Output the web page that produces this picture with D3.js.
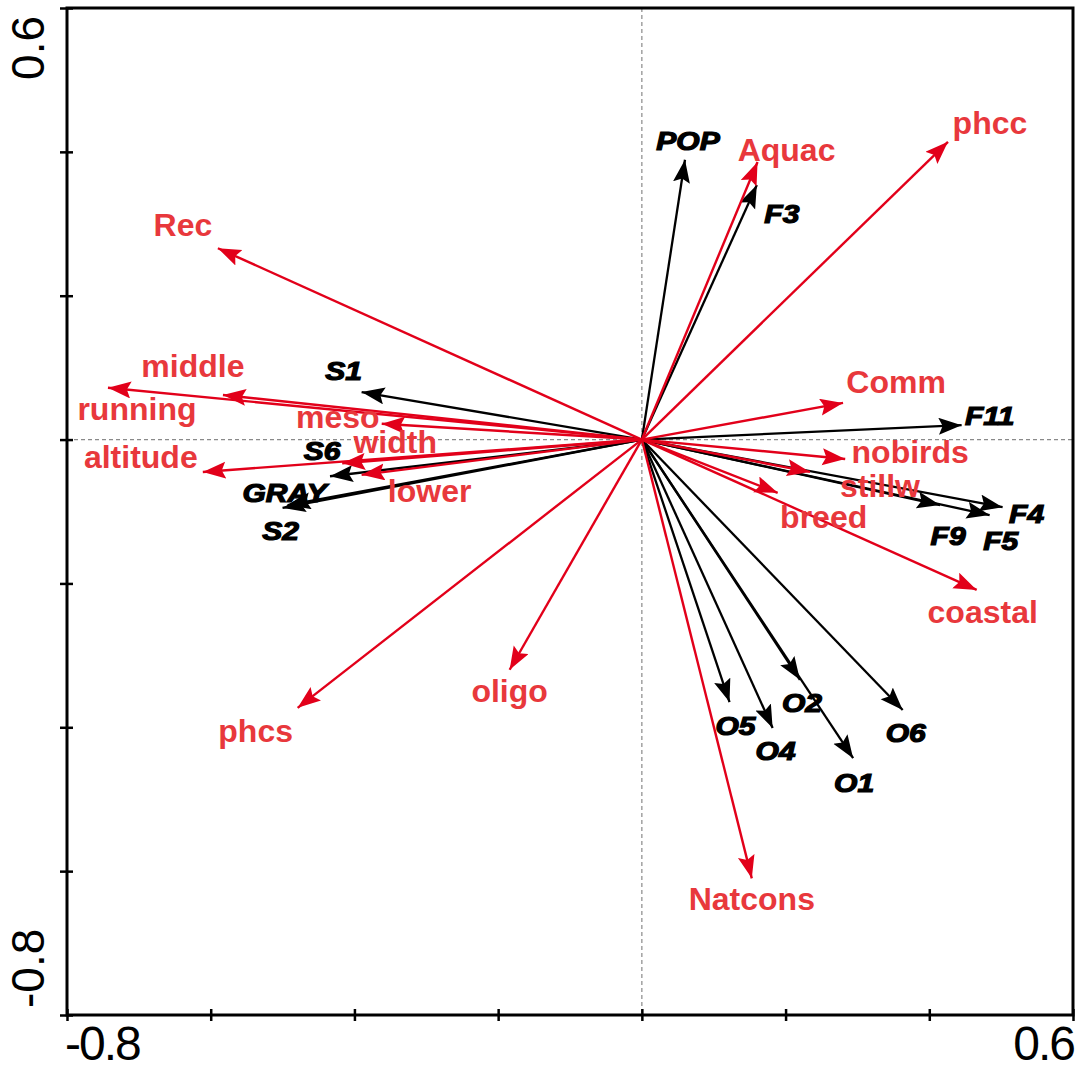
<!DOCTYPE html>
<html>
<head>
<meta charset="utf-8">
<script src="https://cdn.jsdelivr.net/npm/d3@7"></script>
<style>
  body { margin: 0; background: #fff; }
</style>
</head>
<body>
<svg id="chart" width="1076" height="1070"></svg>
<script>
// environmental variables (red arrows), scores on axis 1 and axis 2
var envNames = ['Rec', 'middle', 'running', 'meso', 'width', 'lower', 'altitude', 'phcs', 'oligo',
                'Natcons', 'coastal', 'breed', 'stillw', 'nobirds', 'Comm', 'phcc', 'Aquac'];
var envX = [-0.590, -0.583, -0.743, -0.362, -0.417, -0.390, -0.611, -0.479, -0.184,
             0.153, 0.466, 0.189, 0.234, 0.283, 0.280, 0.426, 0.161];
var envY = [0.266, 0.062, 0.072, 0.022, -0.033, -0.049, -0.045, -0.373, -0.320,
            -0.610, -0.209, -0.074, -0.045, -0.027, 0.051, 0.414, 0.386];

// species (black arrows)
var sppNames = ['POP', 'F3', 'S1', 'S6', 'GRAY', 'S2', 'F11', 'F4', 'F5', 'F9',
                'O5', 'O4', 'O2', 'O1', 'O6'];
var sppX = [0.060, 0.160, -0.390, -0.434, -0.493, -0.500, 0.445, 0.502, 0.484, 0.415,
            0.122, 0.182, 0.220, 0.294, 0.363];
var sppY = [0.389, 0.354, 0.066, -0.051, -0.091, -0.095, 0.020, -0.094, -0.105, -0.091,
            -0.365, -0.401, -0.334, -0.443, -0.376];

var tickValues = [-0.8, -0.6, -0.4, -0.2, 0, 0.2, 0.4, 0.6];
var endLabels = ['-0.8', '0.6'];

// label offsets from the arrow tip (pixels), layout only
var labelOffset = {
  Rec: [-35, -12], middle: [-30, -18], running: [29, 32], meso: [-44, 4], width: [53, -10],
  lower: [68, 27], altitude: [-62, -4], phcs: [-42, 34], oligo: [0, 32], Natcons: [0, 32],
  coastal: [6, 33], breed: [46, 35], stillw: [70, 25], nobirds: [65, 4], Comm: [53, -10],
  phcc: [42, -8], Aquac: [29, -1],
  POP: [3, -10], F3: [25, 38], S1: [-18, -12], S6: [-8, -16], GRAY: [-3, -3], S2: [-2, 32],
  F11: [28, 0], F4: [24, 16], F5: [11, 35], F9: [8, 40],
  O5: [6, 33], O4: [3, 32], O2: [2, 32], O1: [1, 34], O6: [3, 32]
};

var RED = '#e2001a', RED_TEXT = '#e8383c';

var svg = d3.select('#chart');
var pLeft = 67, pRight = 1073, pTop = 8, pBottom = 1015;

var x = d3.scaleLinear().domain([-0.8, 0.6]).range([pLeft, pRight]);
var y = d3.scaleLinear().domain([-0.8, 0.6]).range([pBottom, pTop]);

// arrowhead markers
var defs = svg.append('defs');
[['head-red', RED], ['head-black', '#000']].forEach(function(m) {
  defs.append('marker')
      .attr('id', m[0])
      .attr('markerUnits', 'userSpaceOnUse')
      .attr('markerWidth', 24).attr('markerHeight', 18)
      .attr('refX', 23).attr('refY', 8.5)
      .attr('orient', 'auto')
    .append('path')
      .attr('d', 'M0,0 L23,8.5 L0,17 L4,8.5 Z')
      .attr('fill', m[1]);
});

// dashed zero lines
svg.append('line')
    .attr('x1', x(0)).attr('x2', x(0)).attr('y1', pTop).attr('y2', pBottom)
    .attr('stroke', '#8a8a8a').attr('stroke-width', 1.2).attr('stroke-dasharray', '4,3');
svg.append('line')
    .attr('x1', pLeft).attr('x2', pRight).attr('y1', y(0)).attr('y2', y(0))
    .attr('stroke', '#8a8a8a').attr('stroke-width', 1.2).attr('stroke-dasharray', '4,3');

// frame
svg.append('rect')
    .attr('x', pLeft).attr('y', pTop)
    .attr('width', pRight - pLeft).attr('height', pBottom - pTop)
    .attr('fill', 'none').attr('stroke', '#000').attr('stroke-width', 3);

// ticks crossing the left and bottom axes
var yAxis = d3.axisLeft(y).tickValues(tickValues).tickSize(7).tickFormat('');
svg.append('g')
    .attr('transform', 'translate(' + pLeft + ',0)')
    .call(yAxis)
    .call(function(g) {
      g.select('.domain').remove();
      g.selectAll('.tick line').attr('x1', 6).attr('stroke-width', 2.5);
    });

var xAxis = d3.axisBottom(x).tickValues(tickValues).tickSize(6).tickFormat('');
svg.append('g')
    .attr('transform', 'translate(0,' + pBottom + ')')
    .call(xAxis)
    .call(function(g) {
      g.select('.domain').remove();
      g.selectAll('.tick line').attr('y1', -6).attr('stroke-width', 2.5);
    });

// end tick labels
svg.append('text')
    .attr('x', x(-0.8) - 2).attr('y', 1060)
    .attr('text-anchor', 'start')
    .attr('font-family', 'Liberation Sans, Arial, sans-serif')
    .attr('font-size', 48).attr('letter-spacing', -2)
    .text(endLabels[0]);
svg.append('text')
    .attr('x', x(0.6) + 1).attr('y', 1060)
    .attr('text-anchor', 'end')
    .attr('font-family', 'Liberation Sans, Arial, sans-serif')
    .attr('font-size', 48).attr('letter-spacing', -2)
    .text(endLabels[1]);

svg.append('text')
    .attr('transform', 'translate(44,' + (y(0.6) + 8) + ') rotate(-90)')
    .attr('text-anchor', 'end')
    .attr('font-family', 'Liberation Sans, Arial, sans-serif')
    .attr('font-size', 46)
    .text(endLabels[1]);
svg.append('text')
    .attr('transform', 'translate(44,' + (y(-0.8) - 7) + ') rotate(-90)')
    .attr('text-anchor', 'start')
    .attr('font-family', 'Liberation Sans, Arial, sans-serif')
    .attr('font-size', 46)
    .text(endLabels[0]);

var spp = sppNames.map(function(n, i) { return { name: n, x: sppX[i], y: sppY[i] }; });
var env = envNames.map(function(n, i) { return { name: n, x: envX[i], y: envY[i] }; });

// species arrows (under the red ones)
svg.append('g').selectAll('line')
    .data(spp)
    .enter().append('line')
    .attr('x1', x(0)).attr('y1', y(0))
    .attr('x2', function(d) { return x(d.x); })
    .attr('y2', function(d) { return y(d.y); })
    .attr('stroke', '#000').attr('stroke-width', 2.3)
    .attr('marker-end', 'url(#head-black)');

// environmental arrows
svg.append('g').selectAll('line')
    .data(env)
    .enter().append('line')
    .attr('x1', x(0)).attr('y1', y(0))
    .attr('x2', function(d) { return x(d.x); })
    .attr('y2', function(d) { return y(d.y); })
    .attr('stroke', RED).attr('stroke-width', 2.4)
    .attr('marker-end', 'url(#head-red)');

// species labels, bold italic, slightly stretched
svg.append('g').selectAll('text')
    .data(spp)
    .enter().append('text')
    .attr('transform', function(d) {
      var o = labelOffset[d.name];
      return 'translate(' + (x(d.x) + o[0]) + ',' + (y(d.y) + o[1]) + ') scale(1.2,1)';
    })
    .attr('text-anchor', 'middle')
    .attr('font-family', 'Liberation Sans, Arial, sans-serif')
    .attr('font-weight', 'bold').attr('font-style', 'italic')
    .attr('font-size', 25)
    .attr('fill', '#000').attr('stroke', '#000').attr('stroke-width', 1.2)
    .text(function(d) { return d.name; });

// environmental labels
svg.append('g').selectAll('text')
    .data(env)
    .enter().append('text')
    .attr('x', function(d) { return x(d.x) + labelOffset[d.name][0]; })
    .attr('y', function(d) { return y(d.y) + labelOffset[d.name][1]; })
    .attr('text-anchor', 'middle')
    .attr('font-family', 'Liberation Sans, Arial, sans-serif')
    .attr('font-weight', 'bold')
    .attr('font-size', 32)
    .attr('fill', RED_TEXT)
    .text(function(d) { return d.name; });
</script>
</body>
</html>
